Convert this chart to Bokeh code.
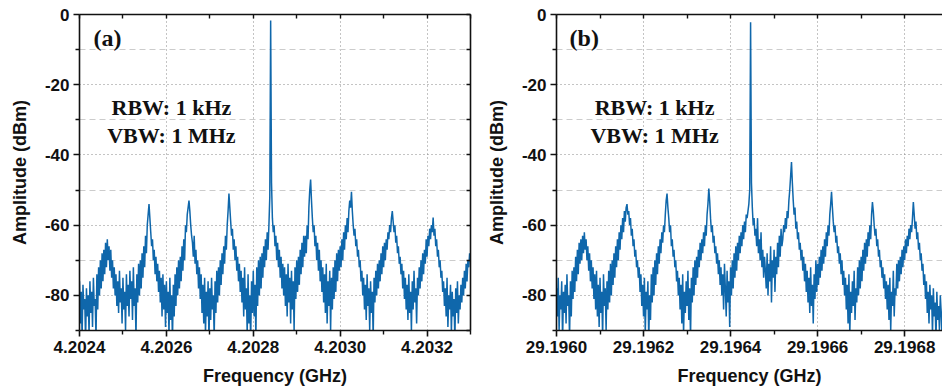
import numpy as np
from bokeh.plotting import figure
from bokeh.layouts import row
from bokeh.models import (Range1d, FixedTicker, LinearAxis, Label,
                          NumeralTickFormatter)
from bokeh.embed import file_html
from bokeh.resources import INLINE

# ---------------- data ----------------
freq_start_a = 4.2024
freq_start_b = 29.1960
freq_step = 2e-6  # GHz (2 kHz sweep step)

amp_a = [
    -76, -88, -79, -92, -77, -84, -81, -93, -78, -86,
    -80, -91, -76, -85, -79, -89, -75, -83, -81, -92,
    -74, -84, -72, -80, -70, -78, -68, -76, -67, -74,
    -65, -72, -64, -70, -66, -73, -67, -75, -70, -78,
    -72, -80, -74, -83, -76, -85, -73, -82, -78, -88,
    -75, -84, -79, -90, -74, -83, -77, -86, -73, -81,
    -76, -87, -72, -83, -78, -92, -74, -82, -71, -80,
    -70, -78, -68, -75, -66, -72, -63, -68, -60, -57,
    -54, -58, -62, -66, -64, -70, -67, -74, -69, -76,
    -71, -79, -73, -82, -75, -86, -74, -84, -77, -89,
    -76, -85, -79, -91, -75, -87, -80, -93, -77, -86,
    -74, -83, -72, -80, -70, -78, -69, -76, -66, -73,
    -64, -70, -60, -62, -57, -55, -53, -56, -60, -63,
    -65, -69, -63, -71, -67, -74, -70, -78, -72, -81,
    -74, -85, -77, -88, -75, -91, -79, -86, -76, -93,
    -78, -87, -75, -84, -80, -92, -76, -85, -73, -82,
    -72, -80, -70, -77, -68, -74, -66, -71, -63, -67,
    -60, -56, -51, -55, -59, -63, -61, -67, -64, -70,
    -66, -73, -69, -76, -71, -79, -73, -82, -75, -86,
    -72, -84, -78, -91, -74, -88, -80, -93, -76, -85,
    -73, -86, -77, -92, -72, -83, -70, -80, -69, -78,
    -68, -75, -66, -72, -64, -70, -62, -67, -60, -52,
    -1.7, -48, -58, -62, -60, -66, -63, -70, -65, -72,
    -67, -75, -69, -78, -71, -80, -72, -83, -74, -86,
    -71, -82, -75, -88, -73, -84, -76, -90, -72, -81,
    -70, -79, -69, -77, -67, -74, -65, -72, -63, -69,
    -63, -68, -60, -64, -55, -50, -47, -53, -58, -62,
    -60, -66, -63, -70, -65, -73, -67, -76, -70, -79,
    -72, -82, -74, -85, -71, -88, -76, -83, -73, -90,
    -75, -84, -72, -81, -70, -79, -68, -76, -67, -73,
    -66, -72, -64, -70, -62, -67, -60, -64, -58, -62,
    -56, -53, -55, -50.5, -56, -60, -63, -61, -66, -64,
    -69, -67, -72, -70, -76, -73, -80, -75, -84, -77,
    -87, -74, -83, -78, -90, -76, -85, -79, -92, -75,
    -82, -73, -80, -71, -78, -70, -76, -68, -74, -66,
    -72, -65, -70, -64, -67, -62, -64, -60, -62, -58,
    -56, -59, -62, -60, -65, -63, -68, -66, -71, -69,
    -74, -71, -78, -73, -81, -75, -84, -77, -87, -74,
    -85, -79, -90, -76, -84, -73, -82, -78, -88, -75,
    -80, -72, -78, -70, -76, -68, -74, -67, -71, -64,
    -69, -63, -66, -61, -64, -60, -62, -57.8, -63, -61,
    -66, -64, -69, -67, -72, -70, -75, -73, -79, -76,
    -83, -78, -86, -75, -89, -80, -84, -77, -91, -79,
    -86, -81, -93, -78, -85, -76, -88, -80, -84, -77,
    -82, -75, -80, -73, -78, -71, -76, -70, -72, -68,
]

amp_b = [
    -78, -86, -75, -90, -80, -84, -76, -93, -79, -85,
    -77, -88, -74, -83, -80, -92, -76, -86, -73, -81,
    -72, -79, -69, -76, -67, -74, -65, -71, -64, -70,
    -63, -68, -62, -67, -64, -70, -66, -73, -68, -76,
    -70, -78, -72, -81, -74, -84, -73, -86, -77, -89,
    -75, -85, -79, -92, -74, -83, -78, -90, -76, -84,
    -73, -82, -71, -80, -70, -77, -68, -75, -66, -72,
    -64, -70, -62, -67, -60, -64, -58, -62, -56, -59,
    -55, -54, -57, -56, -60, -58, -63, -61, -66, -64,
    -69, -67, -72, -70, -75, -72, -79, -74, -83, -77,
    -86, -75, -91, -79, -84, -76, -93, -80, -87, -74,
    -82, -72, -80, -70, -77, -68, -74, -66, -71, -64,
    -68, -62, -65, -60, -62, -57, -53, -51, -55, -58,
    -62, -60, -66, -64, -69, -67, -72, -70, -76, -73,
    -80, -75, -84, -77, -88, -74, -91, -79, -85, -76,
    -83, -73, -87, -78, -92, -75, -82, -72, -80, -70,
    -77, -69, -75, -67, -72, -65, -70, -64, -68, -62,
    -66, -60, -63, -57, -54, -49.6, -53, -58, -62, -60,
    -65, -63, -68, -66, -71, -68, -74, -70, -77, -72,
    -80, -74, -84, -71, -78, -86, -73, -82, -76, -89,
    -72, -80, -70, -78, -68, -75, -66, -73, -65, -70,
    -63, -68, -62, -66, -60, -64, -59, -62, -57, -58,
    -56, -54, -50, -2.2, -48, -55, -60, -58, -63, -61,
    -66, -58, -68, -64, -70, -62, -72, -67, -75, -69,
    -73, -78, -68, -80, -71, -76, -66, -82, -70, -75,
    -67, -79, -69, -74, -65, -72, -63, -69, -61, -66,
    -64, -60, -62, -58, -61, -56, -58, -53, -50, -46,
    -42, -48, -53, -57, -55, -61, -59, -64, -62, -67,
    -65, -70, -67, -73, -69, -76, -71, -79, -73, -82,
    -75, -85, -72, -83, -77, -88, -74, -81, -70, -79,
    -71, -77, -69, -75, -67, -73, -66, -71, -64, -69,
    -62, -66, -60, -63, -57, -54, -50.5, -55, -59, -62,
    -60, -65, -63, -68, -66, -71, -68, -74, -70, -77,
    -73, -80, -75, -84, -77, -88, -74, -91, -79, -85,
    -76, -83, -73, -87, -78, -82, -72, -80, -70, -78,
    -69, -76, -67, -73, -65, -71, -64, -69, -62, -66,
    -60, -64, -57, -53.4, -56, -60, -63, -61, -66, -64,
    -69, -67, -72, -70, -75, -72, -78, -74, -81, -76,
    -84, -77, -87, -75, -90, -79, -83, -73, -86, -78,
    -80, -71, -78, -70, -76, -69, -74, -67, -72, -66,
    -70, -64, -68, -63, -66, -61, -64, -60, -62, -58,
    -53.4, -57, -61, -59, -64, -62, -67, -65, -70, -68,
    -73, -71, -77, -74, -81, -76, -85, -79, -88, -77,
    -84, -80, -91, -78, -86, -82, -93, -79, -87, -83,
    -90, -80, -85, -92, -81, -88, -84, -91, -79, -86,
]

xticks_a = [4.2024, 4.2026, 4.2028, 4.2030, 4.2032]
xtick_labels_a = ["4.2024", "4.2026", "4.2028", "4.2030", "4.2032"]
xminor_a = [4.2025, 4.2027, 4.2029, 4.2031, 4.2033]
xticks_b = [29.1960, 29.1962, 29.1964, 29.1966, 29.1968]
xtick_labels_b = ["29.1960", "29.1962", "29.1964", "29.1966", "29.1968"]
xminor_b = [29.1961, 29.1963, 29.1965, 29.1967, 29.1969]
yticks = [-80, -60, -40, -20, 0]
ytick_labels = ["-80", "-60", "-40", "-20", "0"]
yminor = [-90, -70, -50, -30, -10]

panel_tags = ["(a)", "(b)"]
rbw_text = "RBW: 1 kHz"
vbw_text = "VBW: 1 MHz"

freq_a = freq_start_a + freq_step * np.arange(len(amp_a))
freq_b = freq_start_b + freq_step * np.arange(len(amp_b))

LINE = "#0f67ab"
SANS = "Liberation Sans"
SERIF = "Liberation Serif"
INK = "#111111"


def mirror_axis(ticks_all):
    # frame edge with inward ticks only (no labels)
    return LinearAxis(ticker=FixedTicker(ticks=[], minor_ticks=ticks_all),
                      axis_line_width=1.6, axis_line_color=INK,
                      major_tick_in=0, major_tick_out=0,
                      minor_tick_in=4, minor_tick_out=0,
                      minor_tick_line_width=1.4, minor_tick_line_color=INK,
                      major_label_standoff=0)


def make_panel(freq, amp, xr, xticks, xlabels, xminor, width, mbl, mbr,
               tag, tag_x, txt_x, right_frame):
    p = figure(width=width, height=392, output_backend="svg",
               toolbar_location=None, x_range=Range1d(*xr),
               y_range=Range1d(-90, 0),
               min_border_left=mbl, min_border_right=mbr,
               min_border_top=14, min_border_bottom=62)
    p.background_fill_color = "white"
    p.border_fill_color = "white"
    p.outline_line_color = None

    p.line(freq, amp, line_color=LINE, line_width=1.5)

    xa = p.xaxis[0]
    xa.ticker = FixedTicker(ticks=xticks, minor_ticks=xminor)
    xa.major_label_overrides = {t: l for t, l in zip(xticks, xlabels)}
    xa.formatter = NumeralTickFormatter(format="0.0000")
    ya = p.yaxis[0]
    ya.ticker = FixedTicker(ticks=yticks, minor_ticks=yminor)
    ya.major_label_overrides = {t: l for t, l in zip(yticks, ytick_labels)}
    for ax in (xa, ya):
        ax.axis_line_width = 1.6
        ax.axis_line_color = INK
        ax.major_tick_line_width = 1.6
        ax.minor_tick_line_width = 1.4
        ax.major_tick_line_color = INK
        ax.minor_tick_line_color = INK
        ax.major_tick_in = 0
        ax.major_tick_out = 6
        ax.minor_tick_in = 0
        ax.minor_tick_out = 4
        ax.major_label_text_font = SANS
        ax.major_label_text_font_style = "bold"
        ax.major_label_text_font_size = "17px"
        ax.major_label_text_color = INK
        ax.axis_label_text_font = SANS
        ax.axis_label_text_font_style = "bold"
        ax.axis_label_text_font_size = "18px"
        ax.axis_label_text_color = INK
        ax.major_label_standoff = 4
    xa.axis_label = "Frequency (GHz)"
    xa.axis_label_standoff = 10
    ya.axis_label = "Amplitude (dBm)"
    ya.axis_label_standoff = 12

    p.add_layout(mirror_axis(xticks + xminor), "above")
    if right_frame:
        p.add_layout(mirror_axis(yticks + yminor), "right")

    p.xgrid.ticker = FixedTicker(ticks=xticks)
    p.xgrid.grid_line_color = "#888888"
    p.xgrid.grid_line_dash = "1 3"
    p.xgrid.grid_line_width = 1
    p.ygrid.ticker = FixedTicker(ticks=yticks, minor_ticks=yminor)
    p.ygrid.grid_line_color = "#888888"
    p.ygrid.grid_line_dash = "1 3"
    p.ygrid.grid_line_width = 1
    p.ygrid.minor_grid_line_color = "#cccccc"
    p.ygrid.minor_grid_line_dash = "6 4"
    p.ygrid.minor_grid_line_width = 1

    p.add_layout(Label(x=tag_x, y=-6.6, text=tag, text_font=SERIF,
                       text_font_style="bold", text_font_size="24px",
                       text_baseline="middle", text_align="left",
                       text_color=INK))
    p.add_layout(Label(x=txt_x, y=-26.4, text=rbw_text, text_font=SERIF,
                       text_font_style="bold", text_font_size="22px",
                       text_baseline="middle", text_align="center",
                       text_color=INK))
    p.add_layout(Label(x=txt_x, y=-34.6, text=vbw_text, text_font=SERIF,
                       text_font_style="bold", text_font_size="22px",
                       text_baseline="middle", text_align="center",
                       text_color=INK))
    return p


pa = make_panel(freq_a, amp_a, (4.2024, 4.2033), xticks_a, xtick_labels_a,
                xminor_a, 480, 79, 10, panel_tags[0], 4.202432, 4.2026115,
                True)
pb = make_panel(freq_b, amp_b, (29.1960, 29.196887), xticks_b, xtick_labels_b,
                xminor_b, 462, 76, 0, panel_tags[1], 29.196030, 29.1962253,
                False)

layout = row(pa, pb)
open("out.html", "w").write(file_html(layout, INLINE))
